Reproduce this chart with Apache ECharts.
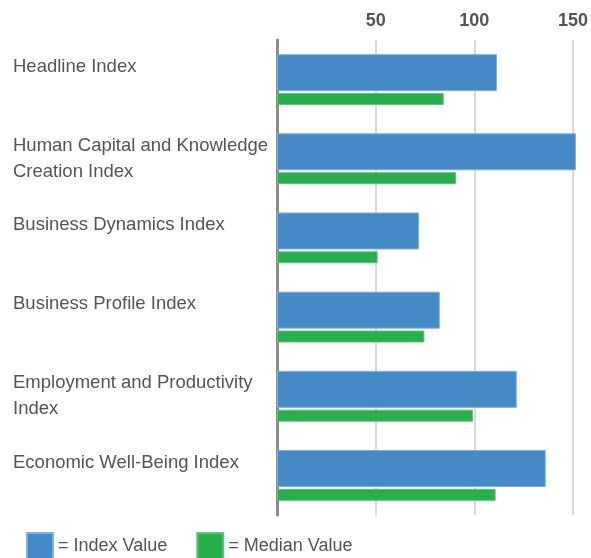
<!DOCTYPE html>
<html lang="en">
<head>
    <meta charset="UTF-8">
    <script src="https://cdn.jsdelivr.net/npm/echarts@6.0.0/dist/echarts.min.js"></script>
    <title>Index Value vs Median Value</title>
    <style>
        html, body { margin: 0; padding: 0; background: #fff; }
    </style>
</head>
<body>
<div id="main" style="width: 591px;height:558px;"></div>

<script type="text/javascript">
    // categories, top to bottom (line breaks as in the picture)
    var categories = [
        'Headline Index',
        'Human Capital and Knowledge\nCreation Index',
        'Business Dynamics Index',
        'Business Profile Index',
        'Employment and Productivity\nIndex',
        'Economic Well-Being Index'
    ];
    var indexValues = [111.5, 151.5, 72, 82.5, 121.5, 136.2];
    var medianValues = [84.5, 90.8, 51, 74.7, 99.4, 110.8];
    var seriesNames = ['Index Value', 'Median Value'];
    var tickInterval = 50;
    var axisMax = 150;

    var font = '"Liberation Sans", Arial, sans-serif';
    var myChart = echarts.init(document.getElementById('main'));

    var option = {
        animation: false,
        color: ['#4589c6', '#28ae4a'],
        grid: {
            left: 277,
            right: 17,
            top: 40,
            bottom: 43
        },
        legend: {
            data: seriesNames,
            left: 26,
            top: 532,
            padding: 0,
            icon: 'rect',
            itemWidth: 26,
            itemHeight: 26,
            itemGap: 29,
            formatter: '= {name}',
            textStyle: {
                fontFamily: font,
                fontSize: 18,
                color: '#555'
            }
        },
        xAxis: {
            type: 'value',
            position: 'top',
            min: 0,
            max: axisMax,
            interval: tickInterval,
            axisLine: { show: false },
            axisTick: { show: false },
            axisLabel: {
                showMinLabel: false,
                margin: 10,
                fontFamily: font,
                fontSize: 18,
                fontWeight: 'bold',
                color: '#555'
            },
            splitLine: {
                lineStyle: { color: '#d9d9d9', width: 2 }
            }
        },
        yAxis: {
            type: 'category',
            inverse: true,
            data: categories,
            axisTick: { show: false },
            axisLine: {
                lineStyle: { color: '#8c8c8c', width: 3 }
            },
            axisLabel: {
                align: 'left',
                margin: 264,
                fontFamily: font,
                fontSize: 18.5,
                lineHeight: 26,
                color: '#555',
                // single-line labels sit on the first line of a two-line block
                formatter: function (v) {
                    return v.indexOf('\n') < 0 ? v + '\n ' : v;
                }
            }
        },
        series: [
            {
                name: seriesNames[0],
                type: 'bar',
                barWidth: 37,
                barGap: '5%',
                clip: false,
                itemStyle: { borderColor: '#7fb0de', borderWidth: 1 },
                data: indexValues
            },
            {
                name: seriesNames[1],
                type: 'bar',
                barWidth: 12,
                clip: false,
                itemStyle: { borderColor: '#5cc476', borderWidth: 1 },
                data: medianValues
            }
        ]
    };
    myChart.setOption(option);
</script>
</body>
</html>
